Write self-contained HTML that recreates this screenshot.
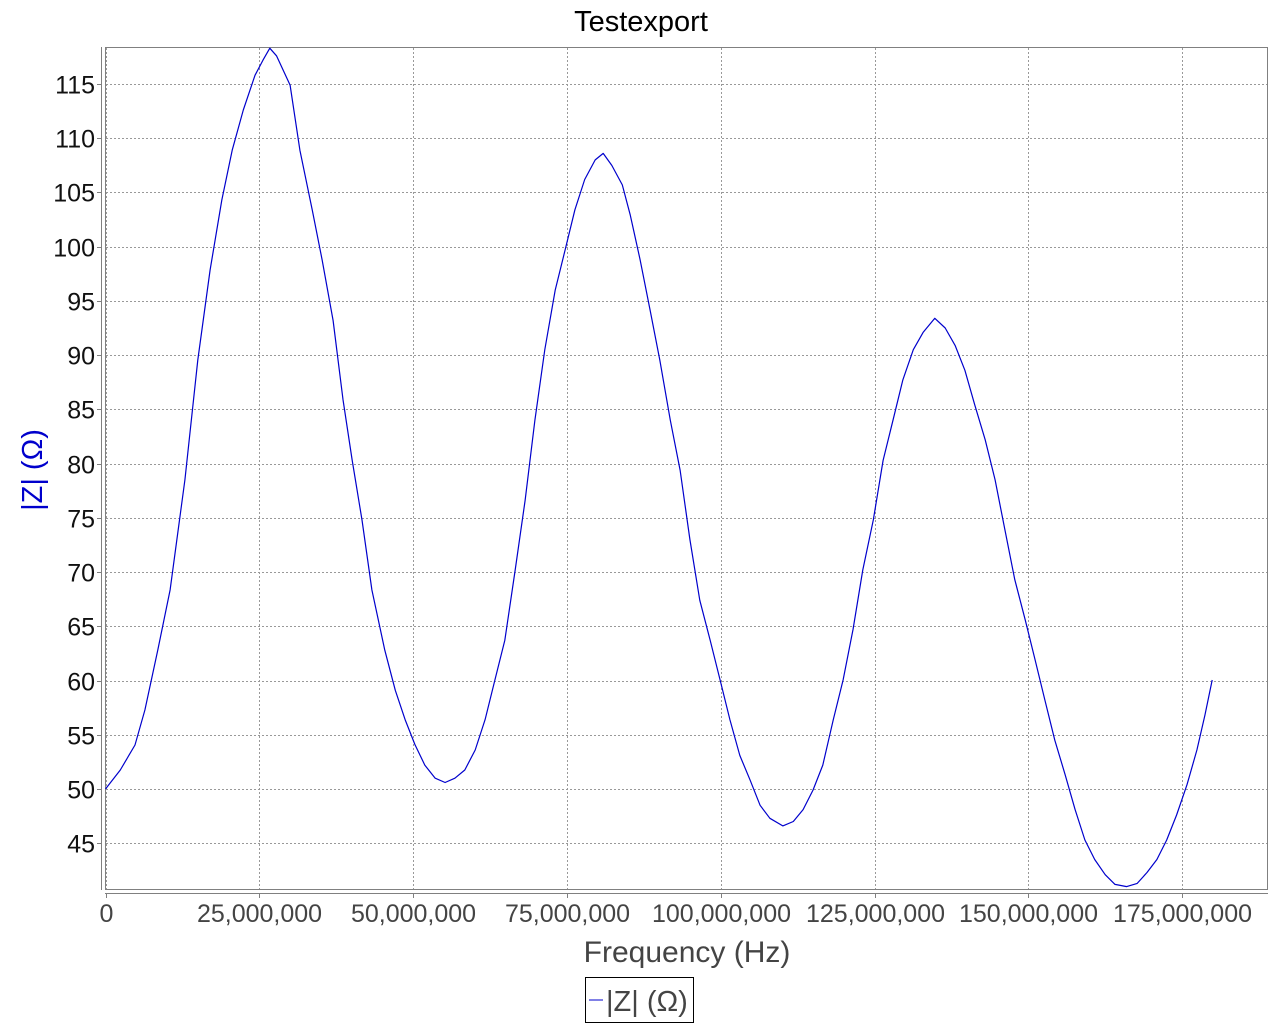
<!DOCTYPE html>
<html><head><meta charset="utf-8"><style>
body{margin:0;background:#fff;}
svg{display:block;font-family:"Liberation Sans",sans-serif;}
</style></head><body>
<svg id="chart" width="1280" height="1024">
<text x="641" y="31" font-size="29" text-anchor="middle" fill="#000">Testexport</text>
<rect x="105.5" y="47.5" width="1162" height="842" fill="#fff" stroke="#808080"/>
<g id="grid"></g>
<line x1="101.5" y1="47" x2="101.5" y2="890" stroke="#808080"/>
<line x1="105" y1="893.5" x2="1268" y2="893.5" stroke="#808080"/>
<g id="yticks"></g>
<g id="xticks"></g>
<g id="series"></g>
<text x="687" y="962" font-size="30" text-anchor="middle" fill="#444">Frequency (Hz)</text>
<text transform="translate(42,470) rotate(-90)" font-size="29" text-anchor="middle" fill="#0000cc">|Z| (Ω)</text>
<g>
<rect x="585.5" y="977.5" width="108" height="45" fill="#fff" stroke="#000"/>
<line x1="589" y1="1000" x2="603" y2="1000" stroke="#0000cc"/>
<text x="606" y="1011" font-size="29" fill="#444">|Z| (Ω)</text>
</g>
</svg>
<script>
const yTicks=[45,50,55,60,65,70,75,80,85,90,95,100,105,110,115];
const xTicks=[0,25000000,50000000,75000000,100000000,125000000,150000000,175000000];
const freqMHz=[0,2.4,4.8,6.4,8.5,10.5,12.9,15.0,17.0,18.9,20.6,22.4,24.3,25.6,26.7,27.8,30.0,31.6,33.6,35.2,37.0,38.6,40.1,41.7,43.3,45.4,47.1,48.7,50.3,51.9,53.6,55.2,56.8,58.4,60.1,61.7,63.3,64.9,66.6,68.2,69.8,71.4,73.1,74.7,76.3,77.9,79.6,80.9,82.3,84.0,85.3,86.9,88.5,90.1,91.8,93.4,95.0,96.6,98.3,99.9,101.5,103.1,104.8,106.4,108.0,110.1,111.8,113.4,115.0,116.6,118.3,119.9,121.5,123.1,124.8,126.4,128.0,129.6,131.3,132.9,134.8,136.5,138.1,139.7,141.3,143.0,144.6,146.2,147.8,149.5,151.1,152.7,154.3,156.0,157.6,159.2,160.8,162.5,164.1,166.0,167.7,169.3,170.9,172.5,174.1,175.8,177.4,178.7,179.9];
const impedance=[50,51.75,54.06,57.28,62.82,68.35,78.5,89.55,97.85,104.3,108.9,112.6,115.8,117.2,118.3,117.6,114.9,108.9,103.4,98.8,93.2,85.9,80.3,74.8,68.35,62.8,59.1,56.4,54.1,52.2,51.0,50.6,51.0,51.75,53.6,56.4,60.05,63.7,70.2,76.6,84.0,90.5,96.0,99.7,103.4,106.2,108.0,108.6,107.5,105.7,102.9,98.8,94.2,89.55,84.0,79.4,73.0,67.4,63.7,60.05,56.4,53.1,50.8,48.5,47.3,46.6,47.0,48.1,49.9,52.2,56.4,60.05,64.7,70.2,74.8,80.3,84.0,87.7,90.5,92.1,93.4,92.5,90.9,88.6,85.4,82.2,78.5,73.9,69.3,65.6,61.9,58.2,54.5,51.3,48.1,45.3,43.5,42.1,41.2,41.0,41.3,42.3,43.5,45.3,47.6,50.4,53.6,56.8,60.05];
const NS="http://www.w3.org/2000/svg";
function xs(f){return 105.5+f/25000000*153.8;}
function ys(v){return 789-(v-50)*10.846;}
function mk(t,a,p){const e=document.createElementNS(NS,t);for(const k in a)e.setAttribute(k,a[k]);p.appendChild(e);return e;}
const grid=document.getElementById('grid'),yt=document.getElementById('yticks'),xt=document.getElementById('xticks'),ser=document.getElementById('series');
yTicks.forEach(v=>{const y=Math.round(ys(v))+0.5;
const g=mk('line',{x1:106,x2:1267,y1:y,y2:y,stroke:'#999','stroke-dasharray':'2,2'},grid);


const tk=mk('line',{x1:97,x2:101,y1:y,y2:y,stroke:'#808080'},yt);


const t=mk('text',{x:95,y:y+9,'font-size':25,'text-anchor':'end',fill:'#111'},yt);t.textContent=v;

});
xTicks.forEach(f=>{const x=Math.round(xs(f))+0.5;
const g=mk('line',{x1:x,x2:x,y1:48,y2:889,stroke:'#999','stroke-dasharray':'2,2'},grid);


const tk=mk('line',{x1:x,x2:x,y1:894,y2:898,stroke:'#808080'},xt);


const t=mk('text',{x:x,y:922,'font-size':25,'text-anchor':'middle',fill:'#444'},xt);t.textContent=f.toLocaleString('en-US');

});
const pts=freqMHz.map((f,i)=>xs(f*1e6).toFixed(1)+','+ys(impedance[i]).toFixed(1)).join(' ');
const pl=mk('polyline',{points:pts,fill:'none',stroke:'#0000cc','stroke-width':1.2,'stroke-linejoin':'round'},ser);


</script>
</body></html>
